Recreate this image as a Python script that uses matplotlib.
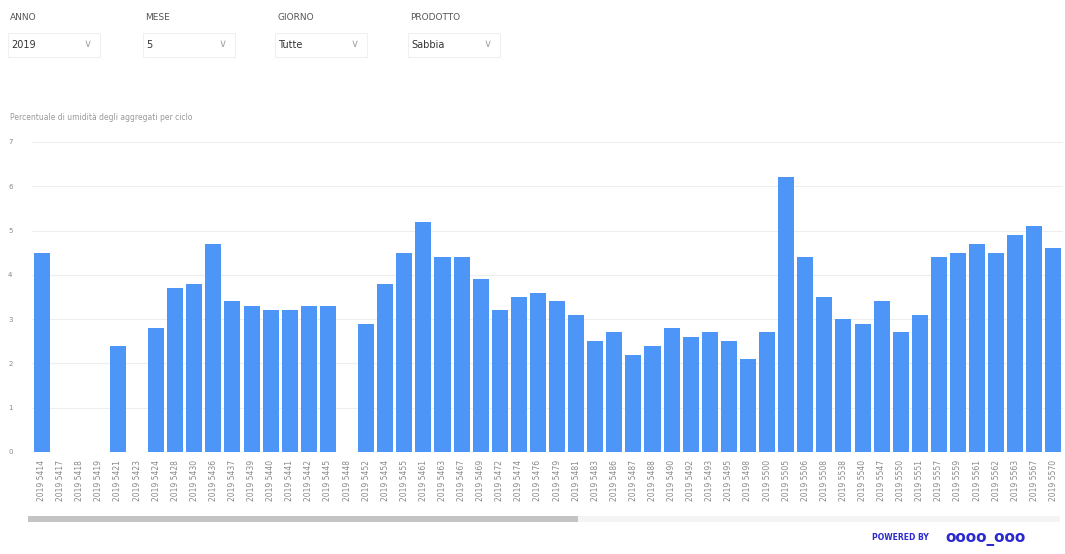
import numpy as np
import matplotlib
matplotlib.use("Agg")
import matplotlib.pyplot as plt
from matplotlib.patches import FancyBboxPatch, Rectangle

# cicli (asse x) e percentuale di umidita'
cicli = ["5414", "5417", "5418", "5419", "5421", "5423", "5424", "5428", "5430",
         "5436", "5437", "5439", "5440", "5441", "5442", "5445", "5448", "5452",
         "5454", "5455", "5461", "5463", "5467", "5469", "5472", "5474", "5476",
         "5479", "5481", "5483", "5486", "5487", "5488", "5490", "5492", "5493",
         "5495", "5498", "5500", "5505", "5506", "5508", "5538", "5540", "5547",
         "5550", "5551", "5557", "5559", "5561", "5562", "5563", "5567", "5570"]
umidita = [4.5, 0, 0, 0, 2.4, 0, 2.8, 3.7, 3.8,
           4.7, 3.4, 3.3, 3.2, 3.2, 3.3, 3.3, 0, 2.9,
           3.8, 4.5, 5.2, 4.4, 4.4, 3.9, 3.2, 3.5, 3.6,
           3.4, 3.1, 2.5, 2.7, 2.2, 2.4, 2.8, 2.6, 2.7,
           2.5, 2.1, 2.7, 6.2, 4.4, 3.5, 3.0, 2.9, 3.4,
           2.7, 3.1, 4.4, 4.5, 4.7, 4.5, 4.9, 5.1, 4.6]
anno = "2019"
y_ticks = [0, 1, 2, 3, 4, 5, 6, 7]

filtri = ["ANNO", "MESE", "GIORNO", "PRODOTTO"]
valori_filtri = ["2019", "5", "Tutte", "Sabbia"]

W, H = 1065, 554
fig = plt.figure(figsize=(W / 100, H / 100), dpi=100)
fig.patch.set_facecolor("white")

ax = fig.add_axes([32 / W, 1 - 452 / H, 1031 / W, 310 / H])
x = np.arange(len(cicli))
ax.bar(x, umidita, width=0.84, color="#4d96f8", zorder=2)
ax.set_xlim(-0.5, len(cicli) - 0.5)
ax.set_ylim(0, 7)
ax.set_yticks(y_ticks)
ax.set_yticklabels([str(v) for v in y_ticks])
ax.yaxis.grid(True, color="#eeeeee", linewidth=0.8, zorder=0)
for s in ax.spines.values():
    s.set_visible(False)
ax.tick_params(axis="y", length=0, labelsize=5, labelcolor="#888888", pad=14)
ax.set_xticks(x)
ax.set_xticklabels([anno + " " + c for c in cicli], rotation=90, fontsize=5.5, color="#888888")
ax.tick_params(axis="x", length=0, pad=6)

# titolo del grafico
fig.text(10 / W, 1 - 118 / H, "Percentuale di umidità degli aggregati per ciclo",
         fontsize=5.5, color="#999999", va="center", ha="left")

# filtri (slicer)
xs = [8, 143, 275, 408]
for xf, nome, val in zip(xs, filtri, valori_filtri):
    fig.text((xf + 2) / W, 1 - 17 / H, nome, fontsize=6.5, color="#555555", va="center")
    box = FancyBboxPatch(((xf) / W, 1 - 57 / H), 92 / W, 24 / H,
                         boxstyle="square,pad=0", transform=fig.transFigure,
                         facecolor="white", edgecolor="#f0f0f0", linewidth=0.8)
    fig.patches.append(box)
    fig.text((xf + 3) / W, 1 - 45 / H, val, fontsize=7, color="#333333", va="center")
    fig.text((xf + 80) / W, 1 - 44 / H, "\u2228", fontsize=8, color="#aaaaaa",
             va="center", ha="center")

# barra di scorrimento
fig.patches.append(Rectangle((28 / W, 1 - 522 / H), 1032 / W, 6 / H,
                             transform=fig.transFigure, facecolor="#f4f4f4", edgecolor="none"))
fig.patches.append(Rectangle((28 / W, 1 - 522 / H), 550 / W, 6 / H,
                             transform=fig.transFigure, facecolor="#c4c4c4", edgecolor="none"))

# logo
fig.text(872 / W, 1 - 538 / H, "POWERED BY", fontsize=5.5, color="#2a2ad0",
         fontweight="bold", va="center")
fig.text(985 / W, 1 - 538 / H, "oooo_ooo", fontsize=11, color="#2a2ad0",
         fontweight="bold", va="center", ha="center")

fig.savefig("out.png", dpi=100)
